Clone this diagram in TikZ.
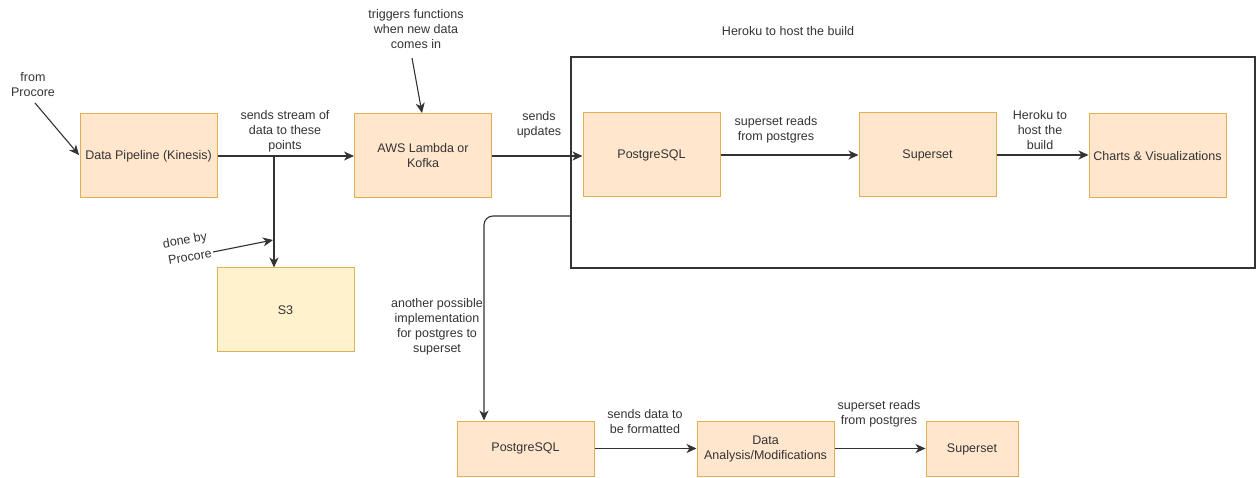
\documentclass[tikz,border=0pt]{standalone}
\usepackage{fontspec}
\setmainfont{Liberation Sans}
\usetikzlibrary{arrows.meta}
\definecolor{ofill}{HTML}{FFE6CC}
\definecolor{odraw}{HTML}{E0B050}
\definecolor{yfill}{HTML}{FFF2CC}
\definecolor{ydraw}{HTML}{D6B656}
\definecolor{ink}{HTML}{333333}
\begin{document}
\begin{tikzpicture}[x=1pt,y=-1pt,
  every node/.style={font=\fontsize{12.5}{15}\selectfont, text=ink},
  obox/.style={draw=odraw, fill=ofill, line width=1pt, minimum width=137pt, minimum height=84pt, inner sep=2pt, align=center},
  ybox/.style={draw=ydraw, fill=yfill, line width=1pt, minimum width=137pt, minimum height=84pt, align=center},
  lbl/.style={align=center, inner sep=1pt},
  conn/.style={draw=ink, line width=1.1pt, -{Stealth[length=10pt,width=9pt,inset=3pt]}},
  plain/.style={draw=ink, line width=1.1pt}]
\useasboundingbox (0,0) rectangle (1256,478);
% container
\node[draw=ink, line width=1.1pt, minimum width=684pt, minimum height=211pt, inner sep=0pt] (host) at (913,162.5) {};
% boxes
\node[obox] (dp) at (148.5,156) {Data Pipeline (Kinesis)};
\node[ybox] (s3) at (285.5,310) {S3};
\node[obox] (aws) at (423,156) {AWS Lambda or\\Kofka};
\node[obox] (pg1) at (651.5,155) {PostgreSQL};
\node[obox] (ss1) at (927.5,155) {Superset};
\node[obox] (ch) at (1157.5,156) {Charts \& Visualizations};
\node[obox, minimum height=55pt] (pg2) at (525.5,448.5) {PostgreSQL};
\node[obox, minimum height=55pt] (da) at (765.5,448.5) {Data\\Analysis/Modifications};
\node[obox, minimum width=92pt, minimum height=55pt] (ss2) at (972,449) {Superset};
% labels
\node[lbl] (title) at (788,31) {Heroku to host the build};
\node[lbl] (fromp) at (33,85) {from\\Procore};
\node[lbl] (trig) at (416,29) {triggers functions\\when new data\\comes in};
\node[lbl] (stream) at (285,131) {sends stream of\\data to these\\points};
\node[lbl] (upd) at (539,125) {sends\\updates};
\node[lbl] (rd1) at (776,130) {superset reads\\from postgres};
\node[lbl] (hk) at (1040,130) {Heroku to\\host the\\build};
\node[lbl, rotate=10, inner sep=0pt] (done) at (185,241) {done by};
\node[lbl, rotate=10, inner sep=0pt] (donep) at (190,257) {Procore};
\node[lbl] (alt) at (437,327) {another possible\\implementation\\for postgres to\\superset};
\node[lbl] (fmt) at (645,422) {sends data to\\be formatted};
\node[lbl] (rd2) at (879,414) {superset reads\\from postgres};
% coordinates
\coordinate (fp1) at (35,103);
\coordinate (fp2) at (79,155);
\coordinate (tr1) at (412,58);
\coordinate (tr2) at (422,113);
\coordinate (br) at (274,156);
\coordinate (db1) at (213,252);
\coordinate (db2) at (273,240);
\coordinate (c1) at (484,216);
% connectors
\draw[conn] (fp1) -- (fp2);
\draw[conn] (tr1) -- (tr2);
\draw[conn] (dp.east) -- (dp.east -| aws.west);
\draw[conn] (br) -- (br |- s3.north);
\draw[conn] (db1) -- (db2);
\draw[conn] (aws.east) -- (aws.east -| pg1.west);
\draw[conn] (pg1.east) -- (ss1.west);
\draw[conn] (ss1.east) -- (ss1.east -| ch.west);
\draw[conn, rounded corners=9pt] (host.west |- c1) -- (c1) -- (c1 |- pg2.north);
\draw[conn] (pg2.east) -- (da.west);
\draw[conn] (da.east) -- (da.east -| ss2.west);
\end{tikzpicture}
\end{document}
